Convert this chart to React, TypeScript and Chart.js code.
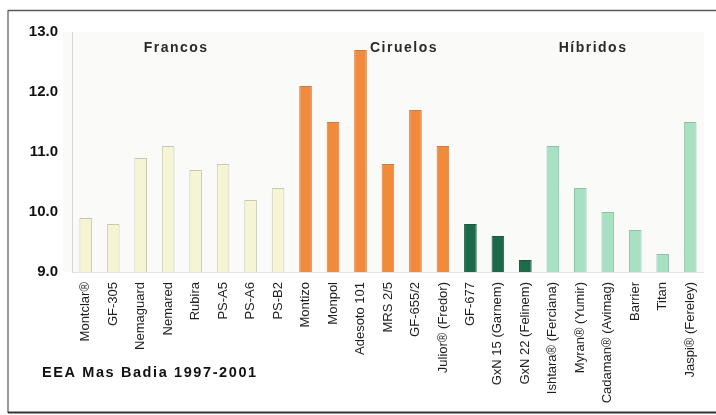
import React, { useEffect, useRef } from "react";
import { Chart, registerables } from "chart.js";

Chart.register(...registerables);

const categories = [
  "Montclar®", "GF-305", "Nemaguard", "Nemared", "Rubira", "PS-A5", "PS-A6", "PS-B2",
  "Montizo", "Monpol", "Adesoto 101", "MRS 2/5", "GF-655/2", "Julior® (Fredor)",
  "GF-677", "GxN 15 (Garnem)", "GxN 22 (Felinem)",
  "Ishtara® (Ferciana)", "Myran® (Yumir)", "Cadaman® (Avimag)", "Barrier", "Titan", "Jaspi® (Fereley)",
];

const values = [
  9.9, 9.8, 10.9, 11.1, 10.7, 10.8, 10.2, 10.4,
  12.1, 11.5, 12.7, 10.8, 11.7, 11.1,
  9.8, 9.6, 9.2,
  11.1, 10.4, 10.0, 9.7, 9.3, 11.5,
];

// group of each category: F = Francos, C = Ciruelos, G = GF-677/GxN, H = Híbridos
const groups = [
  "F", "F", "F", "F", "F", "F", "F", "F",
  "C", "C", "C", "C", "C", "C",
  "G", "G", "G",
  "H", "H", "H", "H", "H", "H",
];

const yTicks = [9, 10, 11, 12, 13];

const sectionLabels = ["Francos", "Ciruelos", "Híbridos"];
const footnote = "EEA Mas Badia 1997-2001";

const fillColors: Record<string, string> = {
  F: "#f5f5d6",
  C: "#f28a3c",
  G: "#1c6a4a",
  H: "#a7e0c3",
};
const borderColors: Record<string, string> = {
  F: "#c9c9b2",
  C: "#d8793a",
  G: "#18583e",
  H: "#8cc4a8",
};

const FONT = "'Liberation Sans', Arial, Helvetica, sans-serif";

const decorPlugin = {
  id: "decor",
  beforeDraw(chart: any) {
    const { ctx, chartArea } = chart;
    ctx.save();
    ctx.fillStyle = "#ffffff";
    ctx.fillRect(0, 0, chart.width, chart.height);
    ctx.fillStyle = "#fafaf8";
    ctx.fillRect(chartArea.left - 9, chartArea.top, chartArea.right - chartArea.left + 9, chartArea.bottom - chartArea.top);
    ctx.restore();
  },
  afterDraw(chart: any) {
    const { ctx } = chart;
    ctx.save();
    // frame
    ctx.strokeStyle = "#9a9a9a";
    ctx.lineWidth = 2;
    ctx.beginPath();
    ctx.moveTo(8, 10);
    ctx.lineTo(8, 413);
    ctx.stroke();
    ctx.strokeStyle = "#5a5a5a";
    ctx.lineWidth = 1.5;
    ctx.beginPath();
    ctx.moveTo(8, 10.5);
    ctx.lineTo(716, 10.5);
    ctx.stroke();
    ctx.strokeStyle = "#333333";
    ctx.lineWidth = 2;
    ctx.beginPath();
    ctx.moveTo(8, 412.5);
    ctx.lineTo(716, 412.5);
    ctx.stroke();

    // section labels
    const x = chart.scales.x;
    const centers = [
      x.getPixelForValue(3) + 8,
      x.getPixelForValue(11) + 16,
      (x.getPixelForValue(18) + x.getPixelForValue(19)) / 2 - 1,
    ];
    ctx.fillStyle = "#2a2a2a";
    ctx.font = `bold 14px ${FONT}`;
    (ctx as any).letterSpacing = "1.5px";
    ctx.textAlign = "center";
    ctx.textBaseline = "middle";
    sectionLabels.forEach((t, i) => ctx.fillText(t, centers[i], 48));

    // footnote
    (ctx as any).letterSpacing = "1.6px";
    ctx.font = `bold 14.5px ${FONT}`;
    ctx.fillStyle = "#111111";
    ctx.textAlign = "left";
    ctx.fillText(footnote, 42, 373);
    ctx.restore();
  },
};

export default function App() {
  const ref = useRef<HTMLCanvasElement | null>(null);

  useEffect(() => {
    if (!ref.current) return;
    const chart = new Chart(ref.current, {
      type: "bar",
      data: {
        labels: categories,
        datasets: [
          {
            data: values,
            backgroundColor: groups.map((g) => fillColors[g]),
            borderColor: groups.map((g) => borderColors[g]),
            borderWidth: 1,
            barPercentage: 0.46,
            categoryPercentage: 1,
            base: 9,
          },
        ],
      },
      options: {
        animation: false,
        responsive: false,
        devicePixelRatio: 1,
        layout: { padding: { top: 32, right: 9, bottom: 0, left: 0 } },
        plugins: {
          legend: { display: false },
          tooltip: { enabled: false },
        },
        scales: {
          x: {
            grid: { display: false, drawTicks: false },
            border: { display: true, color: "#e2e4ea" },
            ticks: {
              autoSkip: false,
              minRotation: 90,
              maxRotation: 90,
              padding: 10,
              color: "#1e1e1e",
              font: { family: FONT, size: 13 },
            },
            afterFit: (s: any) => {
              s.height = 143;
            },
          },
          y: {
            min: 9,
            max: 13,
            grid: { display: false, drawTicks: false },
            border: { display: true, color: "#d6d6d6" },
            afterBuildTicks: (s: any) => {
              s.ticks = yTicks.map((v) => ({ value: v }));
            },
            ticks: {
              padding: 14,
              color: "#111111",
              font: { family: FONT, size: 15, weight: "bold" },
              callback: (v: any) => Number(v).toFixed(1),
            },
            afterFit: (s: any) => {
              s.width = 72;
            },
          },
        },
      },
      plugins: [decorPlugin],
    });
    return () => chart.destroy();
  }, []);

  return (
    <div style={{ position: "fixed", left: 0, top: 0, width: 716, height: 415, background: "#fff" }}>
      <canvas ref={ref} width={716} height={415} style={{ display: "block" }} />
    </div>
  );
}
